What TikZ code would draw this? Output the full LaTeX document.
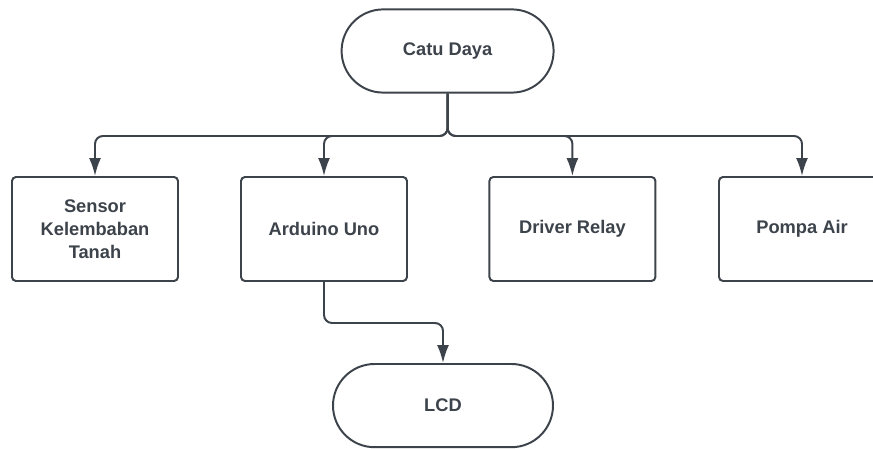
\documentclass[tikz,border=0pt]{standalone}
\usepackage{fontspec}
\setmainfont{Liberation Sans}
\usetikzlibrary{arrows.meta}
\definecolor{ink}{HTML}{3D434B}

\begin{document}
\begin{tikzpicture}[
    font=\bfseries\fontsize{13pt}{16.4pt}\selectfont,
    text=ink,
    block/.style={draw=ink, line width=1.4pt, rounded corners=0.1cm,
      minimum width=4.15cm, minimum height=2.6cm, align=center},
    terminal/.style={draw=ink, line width=1.4pt, rounded corners=1.04cm,
      minimum width=5.3cm, minimum height=2.08cm, align=center},
    flow/.style={draw=ink, line width=1.4pt, rounded corners=0.2cm,
      -{Latex[length=0.45cm, width=0.3cm]}}
  ]
        % Picture frame.
        \clip (0.0, 0.0) rectangle (21.825, 11.2);

        % Power supply.
        \node[terminal] (catu) at (11.19, 9.925) {Catu Daya};

        % Modules row.
        \node[block] (sensor) at (2.375, 5.475) {Sensor\\Kelembaban\\Tanah};
        \node[block] (arduino) at (8.1, 5.475) {Arduino Uno};
        \node[block] (driver) at (14.31, 5.475) {Driver Relay};
        \node[block] (pompa) at (20.05, 5.475) {Pompa Air};

        % Display.
        \node[terminal, minimum width=5.5cm] (lcd) at (11.075, 1.06) {LCD};

        % Supply lines.
        \coordinate (bus) at (11.19, 7.8);
        \foreach \m in {sensor, arduino, driver, pompa} {
          \draw[flow] (catu.south) -- (bus) -| (\m.north);
        }

        % Arduino to LCD.
        \coordinate (bend) at (8.1, 3.125);
        \draw[flow] (arduino.south) -- (bend) -| (lcd.north);
      \end{tikzpicture}
\end{document}
